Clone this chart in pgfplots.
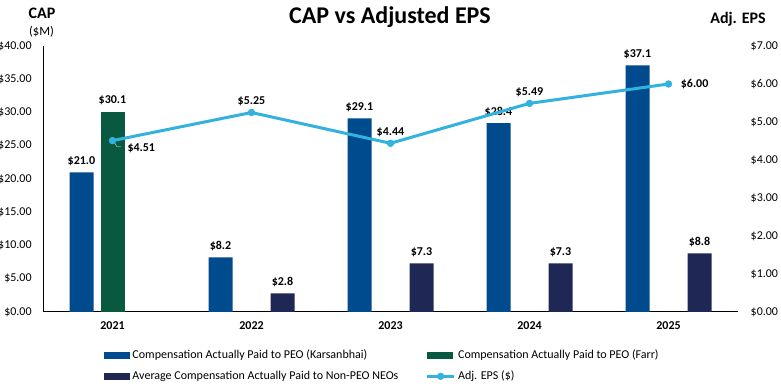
\documentclass[border=0pt]{standalone}
\usepackage{fontspec}
\setmainfont{Carlito}
\usepackage{pgfplots}
\pgfplotsset{compat=1.18}
\definecolor{karsan}{RGB}{0,75,141}
\definecolor{farr}{RGB}{8,89,64}
\definecolor{neo}{RGB}{31,40,84}
\definecolor{eps}{RGB}{51,177,223}
\newcommand{\nine}{\fontsize{9}{10.8}\selectfont}
\begin{document}
\begin{tikzpicture}
% titles
\node[font=\bfseries\fontsize{18}{20}\selectfont] at (292.5pt,278.25pt) {CAP vs Adjusted EPS};
\node[font=\bfseries\fontsize{12}{14}\selectfont] at (31.5pt,281.25pt) {CAP};
\node[font=\fontsize{9.5}{11}\selectfont] at (31.1pt,267pt) {(\$M)};
\node[font=\bfseries\fontsize{12}{14}\selectfont] at (553.5pt,276.75pt) {Adj. EPS};

\begin{axis}[
  at={(32.25pt,57pt)}, anchor=south west,
  scale only axis, width=521.25pt, height=199.5pt,
  xmin=-0.5, xmax=4.5, ymin=0, ymax=40,
  axis x line*=bottom, axis y line*=left,
  axis line style={-, black, line width=0.75pt},
  xtick={0,1,2,3,4}, xticklabels={2021,2022,2023,2024,2025},
  x tick label style={font=\bfseries\nine, yshift=-4pt},
  ytick={0,5,...,40},
  yticklabel={\$\pgfmathprintnumber[fixed,fixed zerofill,precision=2]{\tick}},
  y tick label style={font=\nine, xshift=-5pt},
  /pgf/number format/assume math mode=true,
  major tick length=0pt,
  ybar, bar width=18pt,
  point meta=y,
  nodes near coords={\$\pgfmathprintnumber[fixed,fixed zerofill,precision=1]{\pgfplotspointmeta}},
  every node near coord/.append style={font=\bfseries\nine, text=black, anchor=base, yshift=6pt},
]
\addplot[fill=karsan, draw=none, bar shift=-23.25pt] coordinates {(0,21.0) (1,8.2) (2,29.1) (3,28.4) (4,37.1)};
\addplot[fill=farr, draw=none, bar shift=0pt] coordinates {(0,30.1)};
\addplot[fill=neo, draw=none, bar shift=23.25pt] coordinates {(1,2.8) (2,7.3) (3,7.3) (4,8.8)};
\end{axis}

\begin{axis}[
  at={(32.25pt,57pt)}, anchor=south west,
  scale only axis, width=521.25pt, height=199.5pt,
  xmin=-0.5, xmax=4.5, ymin=0, ymax=7,
  axis x line=none, axis y line*=right,
  axis line style={draw=none},
  ytick={0,1,...,7},
  yticklabel={\$\pgfmathprintnumber[fixed,fixed zerofill,precision=2]{\tick}},
  y tick label style={font=\nine, xshift=6pt},
  /pgf/number format/assume math mode=true,
  major tick length=0pt,
  legend columns=2,
  legend cell align=left,
  legend style={at={(0.0878,-0.13)}, anchor=north west, draw=none, fill=none, inner sep=0pt,
    font=\nine, row sep=4pt, /tikz/every even column/.append style={column sep=18.5pt}},
]
\addlegendimage{legend image code/.code={\fill[karsan] (0pt,-2.25pt) rectangle (18.75pt,2.25pt);}}
\addlegendentry{Compensation Actually Paid to PEO (Karsanbhai)}
\addlegendimage{legend image code/.code={\fill[farr] (0pt,-2.25pt) rectangle (18.75pt,2.25pt);}}
\addlegendentry{Compensation Actually Paid to PEO (Farr)}
\addlegendimage{legend image code/.code={\fill[neo] (0pt,-2.25pt) rectangle (18.75pt,2.25pt);}}
\addlegendentry{Average Compensation Actually Paid to Non-PEO NEOs}
\addlegendimage{legend image code/.code={\draw[eps, line width=2.25pt] (0pt,0pt) -- (20pt,0pt); \fill[eps] (10pt,0pt) circle (2.5pt);}}
\addlegendentry{Adj. EPS (\$)}
\addplot[eps, line width=2.25pt, mark=*, mark size=2.5pt, mark options={line width=0.5pt, fill=eps},
  point meta=y,
  visualization depends on={value \thisrow{pos}\as\lpos},
  visualization depends on={\thisrow{xs}\as\lxs},
  visualization depends on={\thisrow{ys}\as\lys},
  nodes near coords={\$\pgfmathprintnumber[fixed,fixed zerofill,precision=2]{\pgfplotspointmeta}},
  every node near coord/.append style={font=\bfseries\nine, text=black, anchor=\lpos, xshift=\lxs pt, yshift=\lys pt, inner sep=0pt},
] table {
x y pos xs ys
0 4.51 west 11 -6
1 5.25 base 0 6
2 4.44 base 0 6
3 5.49 base 0 6
4 6.00 west 9 0
};
\draw[black!35, line width=0.5pt] (axis cs:0,4.51) ++(1.5pt,-1.5pt) -- ++(1.8pt,-3pt) -- ++(3pt,0pt);
\end{axis}
\pgfresetboundingbox
\path[use as bounding box] (0,0) rectangle (585.75pt,291pt);
\end{tikzpicture}
\end{document}
